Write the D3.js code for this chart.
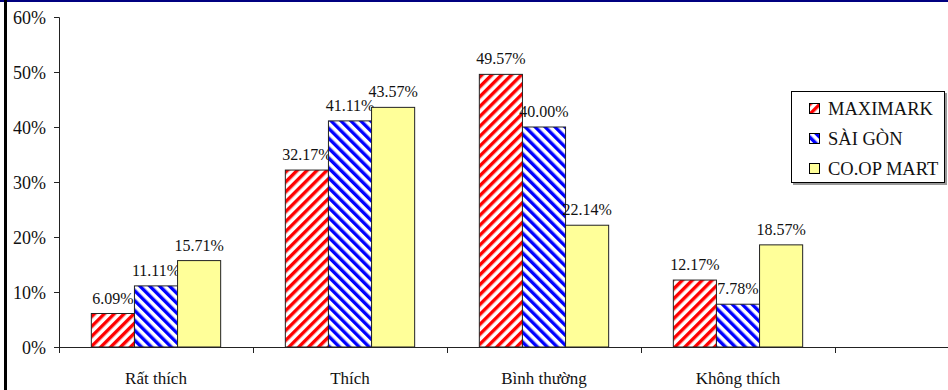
<!DOCTYPE html>
<html>
<head>
<meta charset="utf-8">
<script src="https://cdn.jsdelivr.net/npm/d3@7"></script>
<style>
  html, body { margin: 0; padding: 0; background: #fff; }
  svg { display: block; }
  svg text { font-family: "Liberation Serif", "DejaVu Serif", serif !important; }
</style>
</head>
<body>
<svg id="chart" width="948" height="390"></svg>
<script>
const categories = ["Rất thích", "Thích", "Bình thường", "Không thích"];
const seriesNames = ["MAXIMARK", "SÀI GÒN", "CO.OP MART"];
const maximark = [6.09, 32.17, 49.57, 12.17];
const saigon = [11.11, 41.11, 40.00, 7.78];
const coopmart = [15.71, 43.57, 22.14, 18.57];
const yTicks = [0, 10, 20, 30, 40, 50, 60];

(function () {
const FONT = "'Liberation Serif', 'DejaVu Serif', serif";
const seriesValues = [maximark, saigon, coopmart];
const svg = d3.select("#chart");
const W = 948, H = 390;
const plotLeft = 59, plotTop = 17, plotBottom = 347, step = 194;

// patterns
const defs = svg.append("defs");
function hatch(id, color, angle) {
  const p = defs.append("pattern")
    .attr("id", id).attr("patternUnits", "userSpaceOnUse")
    .attr("width", 7).attr("height", 7)
    .attr("patternTransform", `rotate(${angle})`);
  p.append("rect").attr("width", 7).attr("height", 7).attr("fill", "#fff");
  p.append("rect").attr("width", 3.4).attr("height", 7).attr("fill", color);
}
hatch("hatchRed", "#ff0000", 45);
hatch("hatchBlue", "#0000ff", -45);
const fills = ["url(#hatchRed)", "url(#hatchBlue)", "#ffff99"];

// borders
svg.append("rect").attr("x", 0).attr("y", 0).attr("width", W).attr("height", 2).attr("fill", "#000080");
svg.append("rect").attr("x", 4).attr("y", 0).attr("width", 3).attr("height", H).attr("fill", "#000");

const x = d3.scaleBand().domain(categories).range([plotLeft, plotLeft + step * categories.length]).paddingInner(0).paddingOuter(0);
const bw = step / 4.5;
const y = d3.scaleLinear().domain([0, 60]).range([plotBottom, plotTop]);

// y axis
const yAxis = d3.axisLeft(y).tickValues(yTicks).tickSize(5).tickPadding(8).tickFormat(d => d + "%");
const gy = svg.append("g").attr("transform", `translate(${plotLeft},0)`).call(yAxis)
  .attr("font-family", FONT);
gy.select(".domain").attr("stroke", "#222");
gy.selectAll(".tick line").attr("stroke", "#222");
gy.selectAll(".tick text").attr("font-size", 18).attr("fill", "#111")
  .attr("font-family", FONT).attr("dy", "0.36em");

// bars
categories.forEach((c, i) => {
  const x0 = x(c) + (step - 3 * bw) / 2;
  seriesValues.forEach((vals, s) => {
    const v = vals[i];
    svg.append("rect")
      .attr("x", x0 + s * bw).attr("y", y(v))
      .attr("width", bw).attr("height", y(0) - y(v))
      .attr("fill", fills[s]).attr("stroke", "#222").attr("stroke-width", 1);
    svg.append("text")
      .attr("x", x0 + s * bw + bw / 2).attr("y", y(v) - 10)
      .attr("text-anchor", "middle").attr("font-size", 16).attr("fill", "#111")
      .attr("font-family", FONT)
      .text(v.toFixed(2) + "%");
  });
  svg.append("text")
    .attr("x", x(c) + step / 2).attr("y", 384)
    .attr("text-anchor", "middle").attr("font-size", 17).attr("fill", "#111")
    .attr("font-family", FONT)
    .text(c);
});

// x axis line and ticks
svg.append("line").attr("x1", plotLeft).attr("x2", W).attr("y1", plotBottom + 0.5).attr("y2", plotBottom + 0.5)
  .attr("stroke", "#222");
categories.concat(["__end"]).forEach((c) => {
  const tx = c === "__end" ? x.range()[1] : x(c);
  svg.append("line").attr("x1", tx + 0.5).attr("x2", tx + 0.5)
    .attr("y1", plotBottom).attr("y2", plotBottom + 6).attr("stroke", "#222");
});

// legend
const lg = svg.append("g").attr("transform", "translate(791,91)");
lg.append("rect").attr("x", 2).attr("y", 2).attr("width", 154).attr("height", 92).attr("fill", "#999");
lg.append("rect").attr("x", 0.5).attr("y", 0.5).attr("width", 153).attr("height", 91)
  .attr("fill", "#fff").attr("stroke", "#000").attr("stroke-width", 1);
seriesNames.forEach((n, s) => {
  const cy = 18 + s * 30;
  lg.append("rect").attr("x", 18.5).attr("y", cy - 5.5).attr("width", 10).attr("height", 10)
    .attr("fill", fills[s]).attr("stroke", "#000").attr("stroke-width", 1);
  lg.append("text").attr("x", 37).attr("y", cy).attr("dy", "0.35em")
    .attr("font-size", 18.5).attr("fill", "#111").attr("font-family", FONT).text(n);
});
})();
</script>
</body>
</html>
